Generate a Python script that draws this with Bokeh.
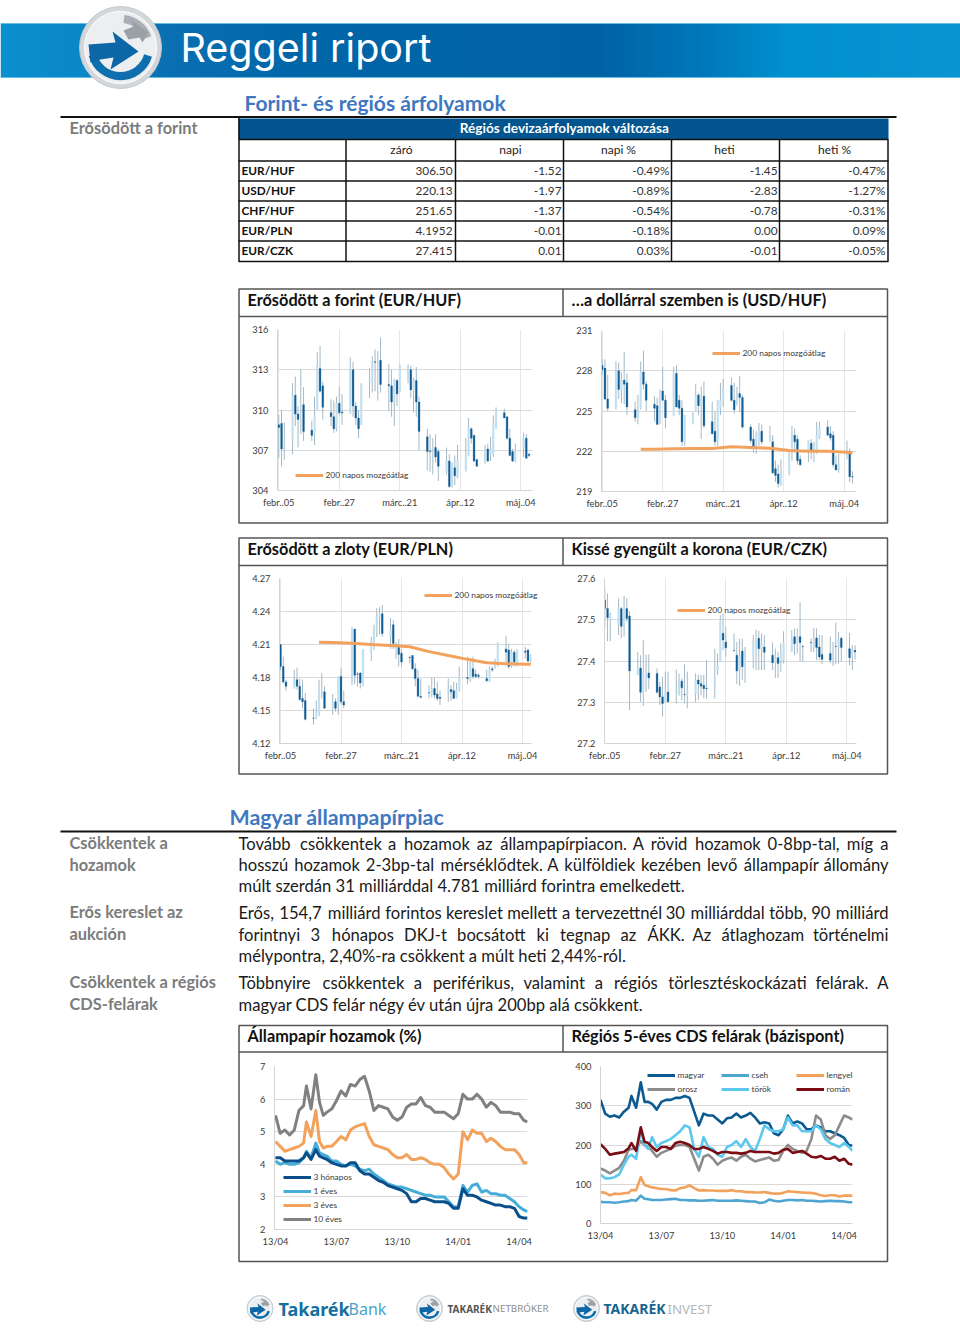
from bokeh.plotting import figure
from bokeh.embed import file_html
from bokeh.resources import INLINE
from bokeh.core.properties import value
from bokeh.models import Range1d, FixedTicker, PrintfTickFormatter

# ---------- table ----------
table_cols = ["záró", "napi", "napi %", "heti", "heti %"]
table_rows = ["EUR/HUF", "USD/HUF", "CHF/HUF", "EUR/PLN", "EUR/CZK"]
table_zaro = ["306.50", "220.13", "251.65", "4.1952", "27.415"]
table_napi = ["-1.52", "-1.97", "-1.37", "-0.01", "0.01"]
table_napip = ["-0.49%", "-0.89%", "-0.54%", "-0.18%", "0.03%"]
table_heti = ["-1.45", "-2.83", "-0.78", "0.00", "-0.01"]
table_hetip = ["-0.47%", "-1.27%", "-0.31%", "0.09%", "-0.05%"]

# ---------- candlestick data: days since febr. 05, then (open, high, low, close) ----------
candle_days = [0,1,2, 5,6,7,8,9, 12,13,14,15,16, 19,20,21,22,23, 26,27,28,29,30, 33,34,35,36,37,
               40,41,42,43,44, 47,48,49,50,51, 54,55,56,57,58, 61,62,63,64,65, 68,69,70,71,72,
               75,76,77,78,79, 82,83,84,85,86, 89,90,91]
date_ticks = [0, 22, 44, 66, 88]
date_labels = ["febr..05", "febr..27", "márc..21", "ápr..12", "máj..04"]

eurhuf = [(308.9,309.65,306.4,308.7),(309.0,310.0,305.8,307.1),(307.1,309.1,306.3,307.2),
(307.7,312.0,306.7,311.1),(311.1,312.5,308.8,309.7),(309.7,310.3,307.2,309.3),(309.0,313.0,308.2,309.2),(310.4,311.7,307.7,308.4),
(308.5,309.2,307.7,308.1),(308.2,311.0,307.4,309.6),(310.0,314.3,310.0,313.4),(313.1,314.8,311.3,311.4),(311.8,312.1,309.3,310.2),
(309.8,310.8,308.8,309.5),(309.5,310.7,308.3,308.6),(308.6,311.0,308.4,310.5),(310.5,311.7,309.6,309.8),(309.85,311.2,308.9,309.8),
(309.8,313.9,309.7,313.0),(313.0,313.6,309.5,310.3),(310.3,310.6,308.9,309.4),(309.4,310.0,307.9,308.6),(308.9,312.0,308.9,311.9),
(312.2,313.1,310.9,312.3),(312.1,314.0,311.3,313.6),(313.6,314.5,311.4,313.55),(313.5,314.4,310.7,313.7),(313.7,315.4,311.3,311.9),
(311.9,313.4,309.9,311.8),(311.8,313.0,309.5,310.6),(310.6,312.3,308.8,312.3),(312.2,312.3,310.3,311.2),(311.4,313.4,311.3,313.3),
(312.6,313.4,312.0,313.0),(313.0,313.3,310.9,311.5),(311.5,312.4,309.8,312.2),(312.2,313.2,309.5,310.6),(310.6,311.0,307.0,308.4),
(308.0,308.6,305.5,306.9),(306.95,308.2,305.4,306.9),(306.8,307.9,305.2,306.9),(307.2,308.2,306.1,306.5),(306.9,307.1,304.7,305.8),
(305.4,307.2,305.2,306.3),(306.2,306.7,304.2,304.3),(304.4,306.1,304.2,305.7),(305.7,306.6,304.4,305.1),(305.0,307.4,304.9,306.3),
(305.5,307.9,305.4,306.6),(306.6,309.4,306.6,308.7),(308.6,308.7,307.5,307.9),(308.1,308.2,306.1,306.2),(306.3,306.4,305.8,305.8),
(306.2,307.4,306.0,307.0),(307.1,307.5,306.1,306.2),(306.7,308.0,306.2,307.1),(306.7,309.6,306.5,308.9),(308.7,310.2,308.6,309.9),
(309.8,310.1,309.4,309.4),(309.5,309.5,307.8,307.9),(307.9,308.6,306.6,306.6),(306.9,307.1,306.1,306.2),(306.2,307.5,306.1,307.0),
(307.2,308.3,306.5,308.0),(307.9,308.2,306.4,306.4),(306.7,306.8,306.5,306.6)]

usdhuf = [(228.4,228.85,227.7,228.1),(228.2,228.85,225.8,225.9),(225.9,227.7,225.0,225.2),
(225.2,228.7,225.1,228.0),(228.0,228.6,225.9,226.6),(226.6,227.9,225.6,227.3),(227.3,229.4,225.5,227.0),(227.1,227.8,224.7,225.3),
(225.1,225.7,224.2,224.5),(224.5,226.2,224.0,225.1),(225.2,228.7,225.1,227.9),(227.9,229.5,226.6,227.0),(227.0,227.2,225.0,225.8),
(225.5,226.1,224.2,225.2),(225.4,226.0,224.0,224.0),(224.1,226.6,224.0,225.8),(226.5,228.3,225.8,225.8),(225.8,226.2,223.7,224.5),
(224.7,228.3,224.6,227.8),(227.8,228.4,225.3,225.3),(225.8,226.2,224.7,225.2),(225.2,225.8,222.4,222.7),(222.7,224.7,222.4,224.7),
(224.4,224.9,224.0,224.7),(225.0,227.0,225.0,226.2),(226.2,226.3,224.7,225.4),(225.4,226.8,222.9,225.9),(226.1,227.2,223.7,223.9),
(224.2,225.7,223.3,223.3),(223.5,225.0,222.4,222.7),(222.7,225.8,222.4,225.8),(225.2,227.1,224.7,225.8),(225.8,227.4,225.3,226.7),
(226.9,227.5,225.7,225.8),(225.8,227.1,224.8,225.1),(225.6,226.8,225.4,226.2),(226.3,227.6,224.9,226.0),(226.0,226.2,223.7,223.8),
(223.8,224.0,222.6,222.8),(222.9,223.6,221.9,222.2),(222.6,223.5,221.8,223.3),(222.9,224.1,222.4,223.4),(223.5,224.0,222.5,222.7),
(222.8,223.9,222.7,223.2),(222.7,223.2,220.3,220.4),(220.7,221.3,219.7,220.2),(220.3,221.0,219.3,219.6),(219.6,221.4,219.4,220.4),
(220.4,222.0,220.2,222.0),(222.0,223.9,221.3,223.2),(223.2,223.7,221.9,222.7),(222.9,223.2,221.0,221.3),(221.4,221.7,220.9,221.0),
(222.0,222.8,221.2,222.8),(222.6,222.9,221.4,222.0),(222.1,222.7,221.2,222.5),(222.0,224.2,221.8,223.2),(223.0,224.2,222.9,223.8),
(223.8,224.3,223.2,223.2),(223.3,223.9,222.8,223.0),(223.2,223.5,220.8,221.0),(221.0,221.7,220.6,220.6),(220.6,221.8,220.4,221.0),
(221.6,222.8,221.4,222.0),(222.0,222.2,219.7,220.1),(220.1,220.5,219.6,220.09)]

eurpln = [(4.21,4.2103,4.1867,4.19),(4.19,4.199,4.1745,4.176),(4.176,4.178,4.168,4.172),
(4.17,4.187,4.17,4.178),(4.178,4.189,4.169,4.172),(4.172,4.179,4.159,4.16),(4.161,4.178,4.152,4.158),(4.159,4.166,4.141,4.142),
(4.1432,4.152,4.137,4.143),(4.144,4.159,4.142,4.148),(4.146,4.178,4.145,4.165),(4.165,4.184,4.161,4.167),(4.167,4.172,4.152,4.152),
(4.152,4.165,4.146,4.157),(4.158,4.161,4.149,4.152),(4.155,4.181,4.146,4.18),(4.181,4.189,4.156,4.158),(4.158,4.168,4.152,4.155),
(4.176,4.226,4.173,4.224),(4.224,4.224,4.174,4.182),(4.1832,4.185,4.172,4.183),(4.184,4.185,4.17,4.175),(4.175,4.206,4.172,4.205),
(4.203,4.217,4.195,4.212),(4.212,4.228,4.205,4.223),(4.223,4.243,4.217,4.235),(4.235,4.244,4.219,4.238),(4.238,4.246,4.217,4.22),
(4.217,4.234,4.206,4.223),(4.228,4.232,4.206,4.211),(4.21,4.212,4.197,4.209),(4.209,4.215,4.19,4.201),(4.202,4.206,4.19,4.194),
(4.1982,4.2,4.193,4.198),(4.2,4.2,4.187,4.188),(4.188,4.193,4.172,4.179),(4.179,4.187,4.162,4.163),(4.163,4.179,4.161,4.162),
(4.1662,4.173,4.161,4.166),(4.165,4.18,4.162,4.169),(4.17,4.1795,4.161,4.164),(4.165,4.176,4.159,4.161),(4.162,4.168,4.155,4.161),
(4.167,4.179,4.158,4.169),(4.169,4.173,4.159,4.167),(4.168,4.176,4.161,4.161),(4.162,4.175,4.161,4.169),(4.17,4.19,4.167,4.18),
(4.18,4.199,4.174,4.179),(4.178,4.196,4.176,4.194),(4.188,4.199,4.179,4.181),(4.183,4.187,4.179,4.181),(4.182,4.184,4.179,4.181),
(4.179,4.187,4.176,4.177),(4.177,4.19,4.176,4.187),(4.188,4.19,4.185,4.187),(4.19,4.197,4.188,4.196),(4.192,4.212,4.19,4.211),
(4.206,4.218,4.194,4.203),(4.205,4.211,4.188,4.19),(4.191,4.206,4.189,4.203),(4.203,4.205,4.19,4.194),(4.193,4.206,4.19,4.203),
(4.204,4.208,4.197,4.203),(4.205,4.206,4.193,4.195),(4.194,4.201,4.193,4.199)]

eurczk = [(27.548,27.577,27.479,27.527),(27.527,27.564,27.448,27.505),(27.497,27.518,27.448,27.515),
(27.487,27.552,27.463,27.526),(27.527,27.531,27.455,27.484),(27.487,27.558,27.459,27.515),(27.527,27.552,27.495,27.503),(27.509,27.521,27.281,27.376),
(27.366,27.422,27.366,27.384),(27.383,27.414,27.301,27.324),(27.325,27.451,27.291,27.373),(27.36,27.416,27.325,27.367),(27.371,27.416,27.332,27.359),
(27.37,27.382,27.321,27.324),(27.337,27.349,27.293,27.313),(27.313,27.362,27.265,27.297),(27.301,27.374,27.301,27.325),(27.325,27.374,27.301,27.301),
(27.327,27.379,27.297,27.329),(27.317,27.37,27.317,27.353),(27.351,27.358,27.305,27.335),(27.319,27.392,27.297,27.318),(27.319,27.374,27.285,27.327),
(27.321,27.37,27.301,27.354),(27.354,27.367,27.305,27.344),(27.345,27.366,27.317,27.339),(27.341,27.367,27.309,27.333),(27.334,27.402,27.309,27.333),
(27.34,27.43,27.309,27.36),(27.378,27.418,27.366,27.39),(27.398,27.511,27.398,27.497),(27.467,27.515,27.426,27.451),(27.446,27.483,27.41,27.432),
(27.425,27.467,27.424,27.424),(27.414,27.446,27.344,27.376),(27.378,27.454,27.34,27.413),(27.424,27.454,27.354,27.386),(27.386,27.434,27.347,27.413),
(27.406,27.463,27.382,27.446),(27.432,27.476,27.378,27.452),(27.455,27.473,27.378,27.43),(27.43,27.467,27.378,27.442),(27.434,27.463,27.378,27.421),
(27.414,27.445,27.378,27.396),(27.396,27.43,27.359,27.41),(27.408,27.422,27.359,27.394),(27.4,27.442,27.374,27.414),(27.402,27.472,27.394,27.446),
(27.422,27.475,27.422,27.453),(27.459,27.479,27.414,27.442),(27.442,27.479,27.418,27.459),(27.459,27.543,27.4,27.445),(27.436,27.438,27.398,27.435),
(27.445,27.455,27.422,27.444),(27.434,27.48,27.422,27.446),(27.456,27.479,27.402,27.433),(27.434,27.463,27.402,27.41),(27.416,27.463,27.392,27.404),
(27.418,27.459,27.394,27.402),(27.403,27.446,27.388,27.422),(27.436,27.493,27.392,27.435),(27.434,27.471,27.394,27.45),(27.455,27.459,27.398,27.433),
(27.43,27.468,27.39,27.408),(27.416,27.438,27.378,27.426),(27.426,27.438,27.404,27.422)]

# 200-day moving averages, read at the start of each week
ma_days = [14, 19, 26, 33, 40, 47, 54, 61, 68, 75, 82, 89, 91]
ma_eurhuf = [300.8, 300.9, 301.0, 301.1, 301.2, 301.3, 301.4, 301.5, 301.6, 301.7, 301.8, 301.9, 302.0]   # below the axis
ma_usdhuf = [222.15, 222.15, 222.18, 222.2, 222.2, 222.33, 222.28, 222.22, 222.05, 222.0, 222.0, 221.92, 221.87]
ma_eurpln = [4.212, 4.2118, 4.2112, 4.21, 4.209, 4.208, 4.2035, 4.2, 4.1965, 4.1935, 4.1925, 4.192, 4.192]
ma_eurczk = [27.05, 27.05, 27.05, 27.05, 27.06, 27.06, 27.06, 27.07, 27.07, 27.07, 27.08, 27.08, 27.08]    # below the axis

# ---------- line chart data: business-day index since 13/04 ----------
line_idx = [0,5,10,15,20,25,30,33,38,43,47,51,55,60] + list(range(65, 270, 5)) + [269]
line_ticks = [0, 65, 130, 195, 260]
line_labels = ["13/04", "13/07", "13/10", "14/01", "14/04"]

y_10y = [5.5,4.95,5.05,4.9,5.05,5.65,5.8,6.4,5.7,6.75, 5.9,5.5,5.6,5.7,5.95,6.25,6.1,6.45,6.4,6.6,
         6.7,6.25,5.65,5.8,5.75,5.7,5.45,5.35,5.45,5.75, 5.85,5.85,6.05,5.8,5.75,5.6,5.6,5.6,5.5,5.4,
         5.55,6.15,6.0,6.0,6.15,6.0,5.75,5.9,5.8,5.6, 5.6,5.6,5.55,5.55,5.35,5.3]
y_3y = [4.7,4.55,4.4,4.45,4.5,4.55,4.65,5.3,4.85,5.65, 4.7,4.5,4.55,4.55,4.7,4.85,4.75,5.05,5.15,5.2,
        5.25,4.85,4.6,4.55,4.5,4.45,4.3,4.2,4.2,4.3, 4.15,4.15,4.2,4.15,4.05,4.0,4.0,3.9,3.7,3.55,
        3.7,5.0,4.75,5.05,4.95,4.95,4.7,4.8,4.7,4.55, 4.45,4.45,4.45,4.3,4.05,4.05]
y_1y = [4.1,4.0,4.05,4.0,4.0,4.05,4.2,4.4,4.2,4.65, 4.35,4.3,4.25,4.1,4.1,4.0,3.95,4.0,3.95,3.85,
        3.8,3.85,3.7,3.6,3.5,3.4,3.35,3.3,3.3,3.25, 3.2,3.15,3.1,3.05,3.05,3.0,3.0,3.0,2.85,2.7,
        2.7,3.35,3.15,3.35,3.4,3.15,3.2,3.1,3.1,3.05, 3.05,2.95,2.85,2.7,2.6,2.55]
y_3m = [4.2,4.2,4.1,4.1,4.1,4.1,4.2,4.35,4.15,4.45, 4.25,4.2,4.15,4.05,4.0,3.95,3.95,4.05,4.05,3.8,
        3.7,3.7,3.6,3.5,3.45,3.35,3.3,3.25,3.2,3.1, 2.85,2.85,2.95,2.95,2.9,2.85,2.85,2.85,2.8,2.65,
        2.65,3.25,3.05,3.05,3.0,2.9,2.85,2.8,2.75,2.75, 2.7,2.7,2.65,2.4,2.35,2.35]

cds_magyar = [315,280,272,275,270,285,295,325,295,360, 310,310,305,290,310,315,315,320,320,325,
              320,285,250,280,275,275,265,255,268,270, 280,270,275,282,270,255,258,255,230,225,
              240,275,255,260,255,240,240,250,245,235, 235,230,225,218,200,198]
cds_cseh = [55,54,54,53,54,56,57,60,58,71, 63,62,60,60,60,61,62,63,60,60,
            59,59,58,58,59,60,58,58,58,58, 59,58,57,56,56,52,54,61,58,56,
            58,60,60,59,60,58,58,57,56,57, 58,57,57,56,54,54]
cds_lengyel = [80,78,72,76,75,77,78,85,85,118, 98,95,92,90,88,88,85,84,90,92,
               97,90,84,85,84,84,83,83,83,85, 82,82,80,80,79,79,80,78,76,76,
               78,82,81,80,79,78,78,76,72,70, 72,72,69,71,71,71]
cds_orosz = [140,135,128,135,142,160,188,190,190,210, 200,195,185,170,180,185,190,198,200,200,
             195,165,135,170,175,165,150,160,165,168, 160,170,175,165,158,162,165,168,160,162,
             185,200,190,185,180,185,215,275,265,225, 215,225,250,275,270,265]
cds_torok = [125,115,115,118,125,150,170,175,165,240, 200,190,220,195,205,210,215,225,235,250,
             245,190,170,220,195,190,175,170,195,200, 210,195,215,195,185,215,250,240,235,235,
             240,270,250,250,235,235,235,250,240,215, 205,200,195,205,195,185]
cds_roman = [202,190,175,178,180,182,192,205,185,245, 208,205,195,185,195,195,190,205,208,205,
             200,190,190,195,190,185,178,182,182,180, 180,178,180,185,182,182,182,182,178,180,
             188,190,180,182,185,178,170,168,172,165, 165,170,160,165,152,150]

FONT = "Lato"
AX_TXT = "#3a3a3a"
ORANGE = "#f3a25e"

def place(left, top, w, h):
    return {"position": "absolute", "left": f"{left:.0f}px", "top": f"{top:.0f}px",
            "width": f"{w:.0f}px", "height": f"{h:.0f}px"}

def layer():
    f = figure(width=960, height=1329, x_range=Range1d(0, 960), y_range=Range1d(1329, 0),
               x_axis_type=None, y_axis_type=None, toolbar_location=None, tools="",
               output_backend="svg", min_border=0, outline_line_color=None,
               background_fill_alpha=0, border_fill_alpha=0, styles=place(0, 0, 960, 1329))
    f.grid.visible = False
    return f

# ---------- page furniture ----------
page = layer()      # below the charts
top_layer = layer() # above the charts (legend keys)

def T(x, y, s, size, color="#1a1a1a", bold=False, font=FONT, align="left", fig=None):
    (fig or page).text(x=[x], y=[y - 1], text=[s], text_font=value(font), text_font_size=value(f"{size}px"),
                       text_color=color, text_font_style="bold" if bold else "normal",
                       text_align=align, text_baseline="middle")

def L(xs, ys, color="#000000", w=1.0, fig=None):
    (fig or page).line(xs, ys, line_color=color, line_width=w)

def hexrgb(h):
    return [int(h[i:i+2], 16) for i in (1, 3, 5)]

# banner
stops = [(0, "#0b8fcd"), (80, "#0987c6"), (165, "#0a70b2"), (300, "#0066a8"), (600, "#0063a5"),
         (700, "#0078ba"), (780, "#008fcf"), (960, "#0a94d3")]
bl, br, bc = [], [], []
for x0 in range(0, 960, 4):
    for (a, ca), (b, cb) in zip(stops, stops[1:]):
        if a <= x0 < b:
            f = (x0 - a) / (b - a)
            c = [round(u + (v - u) * f) for u, v in zip(hexrgb(ca), hexrgb(cb))]
            bc.append("#%02x%02x%02x" % tuple(c))
            break
    bl.append(x0)
    br.append(x0 + 5)
page.quad(left=bl, right=br, top=[23] * len(bl), bottom=[77] * len(bl), fill_color=bc, line_color=None)
L([0, 960], [23, 23], "#63bde6", 1)
L([0, 960], [77, 77], "#63bde6", 1)
T(180, 48, "Reggeli riport", 39.5, "#ffffff", font="Inter")

def logo(cx, cy, r, outer="#d3d7da"):
    k = r / 41.0
    page.circle(x=[cx], y=[cy], radius=r, fill_color=outer, line_color="#c4c9cd", line_width=1)
    page.circle(x=[cx], y=[cy], radius=r * 0.88, fill_color="#eceef0", line_color="#ffffff", line_width=1)
    page.annular_wedge(x=[cx], y=[cy], inner_radius=r * 0.60, outer_radius=r * 0.80, start_angle=3.4, end_angle=6.0,
                       fill_color="#0f6fae", line_color=None)
    page.annular_wedge(x=[cx], y=[cy], inner_radius=r * 0.60, outer_radius=r * 0.80, start_angle=0.35, end_angle=1.45,
                       fill_color="#a9afb4", line_color=None)
    pts = [(-32, -3), (-5, -5), (-8, -16), (18, 4), (-10, 22), (-7, 10), (-20, 12), (-30, 15)]
    page.patch([cx + p[0] * k for p in pts], [cy + p[1] * k for p in pts], fill_color="#0d67a6", line_color=None)
    pts2 = [(3, -17), (13, -21), (11, -27), (28, -15), (22, -5), (19, -10), (8, -8)]
    page.patch([cx + p[0] * k for p in pts2], [cy + p[1] * k for p in pts2], fill_color="#9aa1a6", line_color=None)

logo(120, 47, 41)
logo(259.5, 1308, 13, outer="#cfe3ee")
logo(429, 1308, 13)
logo(586, 1308, 13)
T(278, 1309, "Takarék", 18, "#13709f", bold=True, font="Noto Sans")
T(348, 1309, "Bank", 16, "#4aa3c9", font="Noto Sans")
T(447, 1309, "TAKARÉK", 10, "#555555", bold=True, font="Noto Sans")
T(492, 1309, "NETBRÓKER", 9.8, "#8d8d8d", font="Noto Sans")
T(603, 1309, "TAKARÉK", 14, "#17658f", bold=True, font="Noto Sans")
T(667, 1309, "INVEST", 13.3, "#b5b8ba", font="Noto Sans")

# section headings & rules
HEAD = "#3f78bf"
T(244, 103, "Forint- és régiós árfolyamok", 21, HEAD, bold=True)
T(229, 817, "Magyar állampapírpiac", 21.4, HEAD, bold=True)
L([60, 896], [116.5, 116.5], "#111111", 1.8)
L([60, 896], [831, 831], "#111111", 1.8)

# left labels
GREY = "#7c7c7c"
for (y, s) in [(128, "Erősödött a forint"), (843, "Csökkentek a"), (865, "hozamok"), (912, "Erős kereslet az"),
               (934, "aukción"), (982, "Csökkentek a régiós"), (1004, "CDS-felárak")]:
    T(69, y, s, 16.4, GREY, bold=True)

# table
page.quad(left=[238], right=[888], top=[118], bottom=[138.5], fill_color="#02558f", line_color=None)
T(564, 128.5, "Régiós devizaárfolyamok változása", 13.6, "#ffffff", bold=True, align="center")
tx = [238.5, 345.5, 455, 563, 671, 779, 887.5]
ty = [139, 160.5, 180.5, 200.5, 220.5, 240.5, 261]
for x in tx:
    L([x, x], [139, 261], "#111111", 1.5)
L([238.5, 238.5], [116.5, 139], "#111111", 1.5)
for y in ty:
    L([238, 888], [y, y], "#111111", 1.6)
col_centres = [401, 510, 618, 724, 834]
col_rights = [452, 561, 669, 777, 885]
for cx, c in zip(col_centres, table_cols):
    T(cx, 150, c, 12, "#222222", align="center")
for i, r in enumerate(table_rows):
    y = 171 + 20 * i
    T(241, y, r, 11.8, "#111111", bold=True)
    for rx, colvals in zip(col_rights, [table_zaro, table_napi, table_napip, table_heti, table_hetip]):
        T(rx, y, colvals[i], 11.8, "#333333", align="right")

# chart boxes and titles
BOX = "#555555"
for top, tl, bot in [(288.5, 316, 522.5), (537.5, 565, 773.5), (1025, 1051.5, 1261)]:
    page.quad(left=[238.5], right=[887], top=[top], bottom=[bot], fill_color=None, line_color=BOX, line_width=1.5)
    L([238.5, 887], [tl, tl], BOX, 1.5)
    L([562.5, 562.5], [top, tl], BOX, 1.5)
for x, y, s in [(247, 300, "Erősödött a forint (EUR/HUF)"), (571, 300, "…a dollárral szemben is (USD/HUF)"),
                (247, 549, "Erősödött a zloty (EUR/PLN)"), (571, 549, "Kissé gyengült a korona (EUR/CZK)"),
                (247, 1036, "Állampapír hozamok (%)"), (571, 1036, "Régiós 5-éves CDS felárak (bázispont)")]:
    T(x, y, s, 16.3, "#111111", bold=True)

# body text (justified lines are laid out word by word)
CW = {"a":.49,"b":.55,"c":.46,"d":.55,"e":.51,"f":.33,"g":.50,"h":.54,"i":.24,"j":.24,"k":.49,"l":.24,"m":.80,
      "n":.54,"o":.56,"p":.55,"q":.55,"r":.36,"s":.42,"t":.35,"u":.54,"v":.48,"w":.73,"x":.47,"y":.48,"z":.45,
      "á":.49,"é":.51,"í":.24,"ó":.56,"ö":.56,"ő":.56,"ú":.54,"ü":.54,"ű":.54,",":.22,".":.22,"-":.35,"%":.8,"/":.4}
def word_w(w, size):
    return sum(CW.get(ch, .6) for ch in w) * size

BODY = 16.6
def just(y, s):
    words = s.split(" ")
    ws = [word_w(w, BODY) for w in words]
    gap = (888 - 238 - sum(ws)) / (len(words) - 1)
    x = 238.0
    for i, (w, wd) in enumerate(zip(words, ws)):
        if i == len(words) - 1:
            T(888, y, w, BODY, align="right")
        else:
            T(x, y, w, BODY)
        x += wd + gap

just(844, "Tovább csökkentek a hozamok az állampapírpiacon. A rövid hozamok 0-8bp-tal, míg a")
just(865, "hosszú hozamok 2-3bp-tal mérséklődtek. A külföldiek kezében levő állampapír állomány")
T(238, 886, "múlt szerdán 31 milliárddal 4.781 milliárd forintra emelkedett.", BODY)
just(913, "Erős, 154,7 milliárd forintos kereslet mellett a tervezettnél 30 milliárddal több, 90 milliárd")
just(935, "forintnyi 3 hónapos DKJ-t bocsátott ki tegnap az ÁKK. Az átlaghozam történelmi")
T(238, 956, "mélypontra, 2,40%-ra csökkent a múlt heti 2,44%-ról.", BODY)
just(983, "Többnyire csökkentek a periférikus, valamint a régiós törlesztéskockázati felárak. A")
T(238, 1005, "magyar CDS felár négy év után újra 200bp alá csökkent.", BODY)

# legend keys live on the top layer so that they can pass the plot frame and cover the grid
def key(x0, y, label, color, w=3):
    L([x0, x0 + 27.5], [y, y], color, w, fig=top_layer)
    T(x0 + 30, y + 0.5, label, 8.4, AX_TXT, fig=top_layer)

for x0, y in [(295, 475), (712, 353), (424, 595), (677, 610)]:
    key(x0, y, "200 napos mozgóátlag", ORANGE)

# ---------- charts ----------
ML, MR, MT, MB = 48, 20, 8, 28
def base(left, right, top, bottom, xr, yr, yticks, xticks, xlabels, fmt, vgrid):
    W, H = right - left, bottom - top
    p = figure(width=round(W + ML + MR), height=round(H + MT + MB), x_range=Range1d(*xr), y_range=Range1d(*yr),
               toolbar_location=None, tools="", output_backend="svg",
               min_border_left=ML, min_border_right=MR, min_border_top=MT, min_border_bottom=MB,
               outline_line_color=None, background_fill_alpha=0, border_fill_alpha=0,
               styles=place(left - ML, top - MT, W + ML + MR, H + MT + MB))
    p.yaxis.ticker = FixedTicker(ticks=yticks)
    p.xaxis.ticker = FixedTicker(ticks=xticks)
    p.xaxis.major_label_overrides = dict(zip(xticks, xlabels))
    if fmt:
        p.yaxis.formatter = PrintfTickFormatter(format=fmt)
    for ax in (p.xaxis[0], p.yaxis[0]):
        ax.axis_line_color = "#d4d4d4"
        ax.major_tick_line_color = None
        ax.minor_tick_line_color = None
        ax.major_label_text_font = FONT
        ax.major_label_text_font_size = "9.3px"
        ax.major_label_text_color = AX_TXT
    p.xaxis.major_label_standoff = 0
    p.yaxis.major_label_standoff = 3
    p.ygrid.grid_line_color = "#d9d9d9"
    p.ygrid.grid_line_width = 1
    p.xgrid.grid_line_color = "#e6e6e6" if vgrid else None
    return p

def candles(rect, xr, yr, yticks, rows, ma, fmt=None):
    left, right, top, bottom = rect
    p = base(left, right, top, bottom, xr, yr, yticks, date_ticks, date_labels, fmt, True)
    o = [r[0] for r in rows]; h = [r[1] for r in rows]; l = [r[2] for r in rows]; c = [r[3] for r in rows]
    p.segment(x0=candle_days, x1=candle_days, y0=l, y1=h, line_color="#a3b9c6", line_width=1)
    up = [i for i in range(len(rows)) if c[i] >= o[i]]
    dn = [i for i in range(len(rows)) if c[i] < o[i]]
    p.vbar(x=[candle_days[i] for i in up], width=0.65, top=[c[i] for i in up], bottom=[o[i] for i in up],
           fill_color="#c3e0f0", line_color="#c3e0f0", line_width=0.3)
    p.vbar(x=[candle_days[i] for i in dn], width=0.65, top=[o[i] for i in dn], bottom=[c[i] for i in dn],
           fill_color="#0f5c94", line_color="#0f5c94", line_width=0.3)
    p.line(ma_days, ma, line_color=ORANGE, line_width=3, line_join="round")
    return p

def xr_candle(first_tick_px, left, right, ppd=2.75):
    return ((left - first_tick_px) / ppd, (right - first_tick_px) / ppd)

c1 = candles((277, 532, 329, 490), xr_candle(278.3, 277, 532), (304, 316), [304, 307, 310, 313, 316], eurhuf, ma_eurhuf)
c2 = candles((601, 856, 330, 491), xr_candle(601.7, 601, 856), (219, 231), [219, 222, 225, 228, 231], usdhuf, ma_usdhuf)
c3 = candles((279, 531, 578, 743), xr_candle(280, 279, 531), (4.12, 4.27), [4.12, 4.15, 4.18, 4.21, 4.24, 4.27], eurpln, ma_eurpln, "%.2f")
c4 = candles((604, 856, 578, 743), xr_candle(604.3, 604, 856), (27.2, 27.6), [27.2, 27.3, 27.4, 27.5, 27.6], eurczk, ma_eurczk, "%.1f")

# yields
LPX = 0.937   # px per business day
y_rect = (274, 527, 1066, 1229)
c5 = base(*y_rect, ((274 - 275) / LPX, (527 - 275) / LPX), (2, 7), [2, 3, 4, 5, 6, 7], line_ticks, line_labels, None, False)
y_series = [("10 éves", y_10y, "#808080", 1219), ("3 éves", y_3y, "#f2a25c", 1205),
            ("1 éves", y_1y, "#46add8", 1191), ("3 hónapos", y_3m, "#0a4f8a", 1177)]
for lab, vals, col, ky in y_series:
    c5.line(line_idx, vals, line_color=col, line_width=3, line_join="round")
    key(283, ky, lab, col)

# CDS
c_rect = (600, 852, 1066, 1223)
c6 = base(*c_rect, ((600 - 600) / LPX, (852 - 600) / LPX), (0, 400), [0, 100, 200, 300, 400], line_ticks, line_labels, None, False)
cds_series = [("magyar", cds_magyar, "#0b5a92", 647, 1075), ("cseh", cds_cseh, "#4ea5d2", 721, 1075),
              ("lengyel", cds_lengyel, "#f2a25c", 796, 1075), ("orosz", cds_orosz, "#8c8c8c", 647, 1089),
              ("török", cds_torok, "#5cc8ee", 721, 1089), ("román", cds_roman, "#7a0c14", 796, 1089)]
for lab, vals, col, kx, ky in cds_series:
    c6.line(line_idx, vals, line_color=col, line_width=2.6, line_join="round")
    key(kx, ky, lab, col)

open("out.html", "w").write(file_html([page, c1, c2, c3, c4, c5, c6, top_layer], INLINE))
